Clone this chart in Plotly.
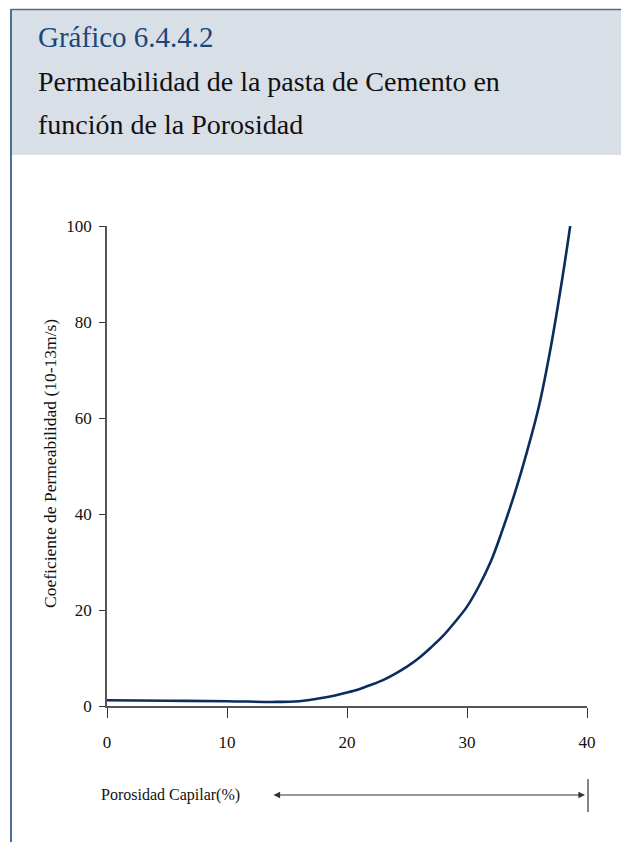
import plotly.graph_objects as go

# Data
porosidad = [0, 5, 10, 14, 16, 17, 18, 19, 20, 21, 22, 23, 24, 25, 26, 27, 28, 29,
             30, 31, 32, 33, 34, 35, 36, 37, 38, 38.6]
permeabilidad = [1.2, 1.1, 1.0, 0.85, 1.0, 1.3, 1.7, 2.2, 2.8, 3.5, 4.4, 5.4, 6.7, 8.2,
                 10.0, 12.2, 14.6, 17.5, 20.7, 25.0, 30.2, 37.0, 44.5, 53.0, 62.5, 75.0, 90.0, 100.0]

x_ticks = [0, 10, 20, 30, 40]
y_ticks = [0, 20, 40, 60, 80, 100]

OFF = 8  # page offset of the plot inside the browser window
W, H = 621, 834
L, R, T, B = 107 - OFF, 587 - OFF, 226 - OFF, 706 - OFF
pw, ph = R - L, B - T

def px(xp):
    return (xp - OFF - L) / pw

def py(yp):
    return (B - (yp - OFF)) / ph

SERIF = "Liberation Serif, Times New Roman, serif"
BORDER = "#4d6d94"

fig = go.Figure()
fig.add_trace(go.Scatter(
    x=porosidad, y=permeabilidad, mode="lines",
    line=dict(color="#0b2d5c", width=2.6, shape="spline", smoothing=1.0),
    hoverinfo="skip", showlegend=False,
))

shapes = [
    # header band
    dict(type="rect", xref="paper", yref="paper", x0=px(11), x1=px(627), y0=py(155), y1=py(9),
         fillcolor="#d9dfe7", line=dict(width=0), layer="below"),
    # frame lines
    dict(type="line", xref="paper", yref="paper", x0=px(11), x1=px(11), y0=py(9), y1=py(851),
         line=dict(color=BORDER, width=2)),
    dict(type="line", xref="paper", yref="paper", x0=px(626.5), x1=px(626.5), y0=py(9), y1=py(851),
         line=dict(color=BORDER, width=2)),
    dict(type="line", xref="paper", yref="paper", x0=px(11), x1=px(627), y0=py(9.5), y1=py(9.5),
         line=dict(color=BORDER, width=1.5)),
    # vertical end bar near arrow
    dict(type="line", xref="paper", yref="paper", x0=px(588), x1=px(588), y0=py(779), y1=py(812),
         line=dict(color="#444444", width=1.3)),
]

annotations = [
    dict(text="Gráfico 6.4.4.2", xref="paper", yref="paper", x=px(36), y=py(37),
         xanchor="left", yanchor="middle", showarrow=False,
         font=dict(family=SERIF, size=29, color="#1b4878")),
    dict(text="Permeabilidad de la pasta de Cemento en", xref="paper", yref="paper", x=px(36), y=py(81),
         xanchor="left", yanchor="middle", showarrow=False,
         font=dict(family=SERIF, size=28, color="#111111")),
    dict(text="función de la Porosidad", xref="paper", yref="paper", x=px(36), y=py(124),
         xanchor="left", yanchor="middle", showarrow=False,
         font=dict(family=SERIF, size=28, color="#111111")),
    dict(text="Coeficiente de Permeabilidad (10-13m/s)", xref="paper", yref="paper", x=px(50), y=py(464),
         xanchor="center", yanchor="middle", textangle=-90, showarrow=False,
         font=dict(family=SERIF, size=17.5, color="#111111")),
    dict(text="Porosidad Capilar(%)", xref="paper", yref="paper", x=px(99), y=py(795),
         xanchor="left", yanchor="middle", showarrow=False,
         font=dict(family=SERIF, size=16, color="#111111")),
    dict(text="", xref="paper", yref="paper", x=px(585), y=py(795), ax=-313, ay=0,
         showarrow=True, arrowside="end+start", arrowhead=2, arrowsize=1.1, arrowwidth=1.2,
         arrowcolor="#333333", standoff=0, startstandoff=0, startarrowhead=2, startarrowsize=1.1),
]

fig.update_layout(
    width=W, height=H,
    margin=dict(l=L, r=W - R, t=T, b=H - B, pad=0),
    paper_bgcolor="white", plot_bgcolor="white",
    shapes=shapes, annotations=annotations,
    xaxis=dict(range=[0, 40], tickvals=x_ticks, ticks="outside", ticklen=10, tickwidth=1.3,
               tickcolor="#333333", showline=True, linecolor="#555555", linewidth=1.5,
               showgrid=False, zeroline=False, ticklabelstandoff=10,
               tickfont=dict(family=SERIF, size=17, color="#111111")),
    yaxis=dict(range=[0, 100], tickvals=y_ticks, ticks="outside", ticklen=6, tickwidth=1.3,
               tickcolor="#333333", showline=True, linecolor="#555555", linewidth=1.5,
               showgrid=False, zeroline=False, ticklabelstandoff=4,
               tickfont=dict(family=SERIF, size=17, color="#111111")),
)

fig.write_html("out.html")
